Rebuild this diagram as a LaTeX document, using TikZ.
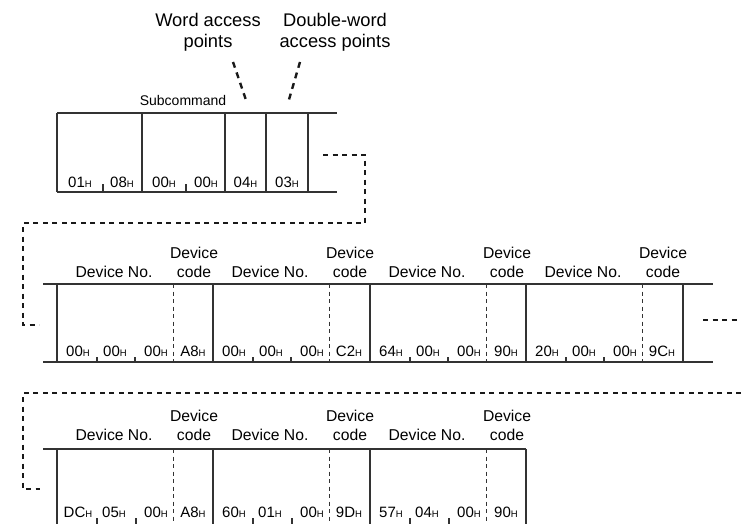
\documentclass[tikz,border=0pt]{standalone}
\usepackage{fontspec}
\setmainfont{Liberation Sans}
\newcommand\hx[1]{#1{\fontsize{9.5}{10}\selectfont H}}
\begin{document}
\begin{tikzpicture}[x=1pt,y=-1pt,
  box/.style={draw=black!80,line width=1.2pt},
  sep/.style={draw=black!80,line width=0.9pt,dash pattern=on 4pt off 3.5pt},
  link/.style={draw=black!90,line width=2pt,dash pattern=on 5pt off 4.5pt},
  lead/.style={draw=black!90,line width=2.4pt,dash pattern=on 6pt off 5pt},
  byte/.style={anchor=base,inner sep=0pt,font=\fontsize{15}{15}\selectfont},
  lab/.style={anchor=base,inner sep=0pt,align=center,font=\fontsize{15.7}{19}\selectfont},
  big/.style={anchor=base,inner sep=0pt,align=center,font=\fontsize{18.3}{21}\selectfont},
  small/.style={anchor=base,inner sep=0pt,font=\fontsize{14}{14}\selectfont}]
\useasboundingbox (0,0) rectangle (741,524);

% ---------- top labels ----------
\node[big] (wal) at (208,48) {Word access\\points};
\node[big] (dwl) at (335,48) {Double-word\\access points};
\coordinate (wa1) at (233,62); \coordinate (wa2) at (247,103);
\coordinate (dw1) at (300,62); \coordinate (dw2) at (288,103);
\draw[lead] (wa1) -- (wa2);
\draw[lead] (dw1) -- (dw2);
\node[small] (sub) at (183,106) {Subcommand};

% ---------- row 1 ----------
\draw[box] (57,113) -- (337,113);
\draw[box] (57,192) -- (337,192);
\foreach \x in {57,142,225,266,308} \draw[box] (\x,113) -- (\x,192);
\foreach \x in {103,186} \draw[box] (\x,192) -- (\x,184);
\foreach \x/\v [count=\i] in {80/01,122/08,164/00,206/00,245.5/04,287/03}
  \node[byte] (r1b\i) at (\x,187) {\hx{\v}};

% ---------- connector row1 -> row2 ----------
\coordinate (r1out) at (323,155);
\coordinate (r2in) at (39,325);
\draw[link] (r1out) -- (365,155) -- (365,223) -- (23,223) -- (23,325) -- (r2in);

% ---------- row 2 ----------
\draw[box] (43,284) -- (713,284);
\draw[box] (43,362) -- (713,362);
\foreach \x in {57,213,370,526,683} \draw[box] (\x,284) -- (\x,362);
\foreach \g/\a/\b/\c/\d in {57/00/00/00/A8,213/00/00/00/C2,370/64/00/00/90,526/20/00/00/9C}{
  \draw[sep] ({\g+116.5},284) -- ({\g+116.5},362);
  \draw[box] ({\g+40},362) -- ({\g+40},356.5);
  \draw[box] ({\g+78},362) -- ({\g+78},356.5);
  \node[lab] (r2no\g) at ({\g+57},277) {Device No.};
  \node[lab] (r2dc\g) at ({\g+137},277) {Device\\code};
  \node[byte] (r2a\g) at ({\g+21},356) {\hx{\a}};
  \node[byte] (r2b\g) at ({\g+58},356) {\hx{\b}};
  \node[byte] (r2c\g) at ({\g+99},356) {\hx{\c}};
  \node[byte] (r2d\g) at ({\g+136},356) {\hx{\d}};
}
\coordinate (r2out) at (703,320);
\coordinate (r2end) at (741,320);
\draw[link] (r2out) -- (r2end);

% ---------- connector into row 3 ----------
\coordinate (r3start) at (741,393);
\coordinate (r3in) at (40,489);
\draw[link] (r3start) -- (23,393) -- (23,489) -- (r3in);

% ---------- row 3 ----------
\draw[box] (43,449) -- (526,449);
\foreach \x in {57,213,370,526} \draw[box] (\x,449) -- (\x,530);
\foreach \g/\a/\b/\c/\d in {57/DC/05/00/A8,213/60/01/00/9D,370/57/04/00/90}{
  \draw[sep] ({\g+116.5},449) -- ({\g+116.5},530);
  \draw[box] ({\g+40},530) -- ({\g+40},518);
  \draw[box] ({\g+79},530) -- ({\g+79},518);
  \node[lab] (r3no\g) at ({\g+57},440) {Device No.};
  \node[lab] (r3dc\g) at ({\g+137},440) {Device\\code};
  \node[byte] (r3a\g) at ({\g+21},517) {\hx{\a}};
  \node[byte] (r3b\g) at ({\g+57},517) {\hx{\b}};
  \node[byte] (r3c\g) at ({\g+99},517) {\hx{\c}};
  \node[byte] (r3d\g) at ({\g+136},517) {\hx{\d}};
}
\end{tikzpicture}
\end{document}
